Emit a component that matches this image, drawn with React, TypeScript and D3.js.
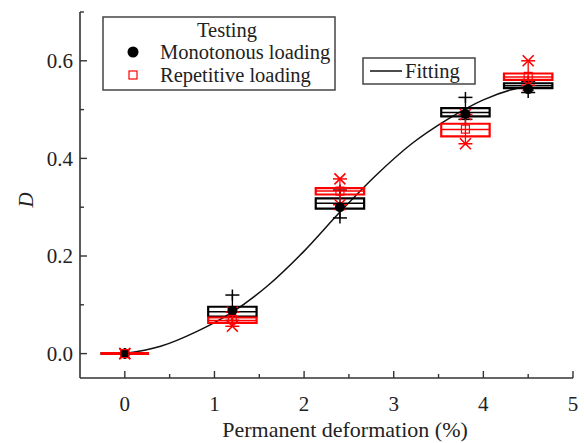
import React, { useEffect, useRef } from 'react';
import * as d3 from 'd3';

// permanent deformation (%) of each test group
const groups = [0, 1.2, 2.4, 3.8, 4.5];

// Monotonous loading (black)
const monoQ1 = [0, 0.076, 0.297, 0.486, 0.544];
const monoMedian = [0, 0.086, 0.308, 0.494, 0.549];
const monoQ3 = [0, 0.096, 0.318, 0.503, 0.554];
const monoMean = [0, 0.088, 0.3, 0.491, 0.542];
const monoMin = [0, 0.068, 0.278, 0.48, 0.535];
const monoMax = [0, 0.12, 0.335, 0.525, 0.558];

// Repetitive loading (red)
const repQ1 = [0, 0.063, 0.326, 0.445, 0.561];
const repMedian = [0, 0.068, 0.333, 0.459, 0.567];
const repQ3 = [0, 0.074, 0.339, 0.471, 0.574];
const repMean = [0, 0.07, 0.333, 0.46, 0.568];
const repMin = [0, 0.056, 0.305, 0.43, 0.55];
const repMax = [0, 0.085, 0.358, 0.49, 0.6];

// fitting curve
const fitX = [0, 0.4, 0.8, 1.2, 1.6, 2.0, 2.4, 2.8, 3.2, 3.6, 4.0, 4.3, 4.5];
const fitD = [0, 0.015, 0.045, 0.085, 0.14, 0.21, 0.29, 0.365, 0.43, 0.48, 0.52, 0.54, 0.548];

const xTicks = [0, 1, 2, 3, 4, 5];
const yTicks = [0, 0.2, 0.4, 0.6];

const FONT = '"Liberation Serif", "Times New Roman", serif';

interface BoxSeries {
  name: string;
  color: string;
  q1: number[];
  median: number[];
  q3: number[];
  mean: number[];
  min: number[];
  max: number[];
  mark: 'plus' | 'cross';
}

const series: BoxSeries[] = [
  { name: 'Monotonous loading', color: '#000', q1: monoQ1, median: monoMedian, q3: monoQ3,
    mean: monoMean, min: monoMin, max: monoMax, mark: 'plus' },
  { name: 'Repetitive loading', color: '#f00', q1: repQ1, median: repMedian, q3: repQ3,
    mean: repMean, min: repMin, max: repMax, mark: 'cross' },
];

const width = 584;
const height = 443;
const margin = { top: 12, right: 11, bottom: 65, left: 80 };

export default function App() {
  const ref = useRef<SVGSVGElement>(null);

  useEffect(() => {
    const svg = d3.select(ref.current);
    svg.selectAll('*').remove();

    const w = width - margin.left - margin.right;
    const h = height - margin.top - margin.bottom;

    const x = d3.scaleLinear().domain([-0.5, 5]).range([0, w]);
    const y = d3.scaleLinear().domain([-0.05, 0.7]).range([h, 0]);

    const main = svg.append('g')
      .attr('transform', `translate(${margin.left}, ${margin.top})`);

    // fitting curve
    const line = d3.line<number>()
      .x((d, i) => x(fitX[i]))
      .y(d => y(d))
      .curve(d3.curveMonotoneX);

    main.append('path')
      .datum(fitD)
      .attr('d', line)
      .attr('fill', 'none')
      .attr('stroke', '#111')
      .attr('stroke-width', 1.5);

    // box charts
    const half = 0.27;
    const cap = 7;
    const mk = 5.5;
    const meanLayer = main.append('g');

    series.forEach(s => {
      const g = main.append('g').attr('stroke', s.color).attr('fill', 'none');

      groups.forEach((gx, i) => {
        const cx = x(gx);
        const x0 = x(gx - half);
        const x1 = x(gx + half);

        // whisker
        g.append('line')
          .attr('x1', cx).attr('x2', cx)
          .attr('y1', y(s.min[i])).attr('y2', y(s.max[i]))
          .attr('stroke-width', 1.3);

        [s.min[i], s.max[i]].forEach(v => {
          g.append('line')
            .attr('x1', cx - cap).attr('x2', cx + cap)
            .attr('y1', y(v)).attr('y2', y(v))
            .attr('stroke-width', 1.5);
          if (s.mark === 'plus') {
            g.append('path')
              .attr('d', `M${cx},${y(v) - mk}V${y(v) + mk}`)
              .attr('stroke-width', 1.5);
          } else {
            g.append('path')
              .attr('d', `M${cx - mk},${y(v) - mk}L${cx + mk},${y(v) + mk}M${cx - mk},${y(v) + mk}L${cx + mk},${y(v) - mk}`)
              .attr('stroke-width', 1.6);
          }
        });

        // box (a path, so a flat box still shows as a line)
        const yt = y(s.q3[i]);
        const yb = y(s.q1[i]);
        g.append('path')
          .attr('d', `M${x0},${yt}H${x1}V${yb}H${x0}Z`)
          .attr('stroke-width', yb - yt < 1 ? 3 : 2.2);

        g.append('line')
          .attr('x1', x0).attr('x2', x1)
          .attr('y1', y(s.median[i])).attr('y2', y(s.median[i]))
          .attr('stroke-width', 1.5);

        // mean, drawn on top of every box
        if (s.mark === 'plus') {
          meanLayer.append('circle')
            .attr('cx', cx).attr('cy', y(s.mean[i]))
            .attr('r', 5)
            .attr('fill', s.color);
        } else {
          meanLayer.append('rect')
            .attr('x', cx - 4).attr('y', y(s.mean[i]) - 4)
            .attr('width', 8).attr('height', 8)
            .attr('fill', 'none')
            .attr('stroke', s.color)
            .attr('stroke-width', 1.2);
        }
      });
    });
    meanLayer.raise();

    // axes
    const axisColor = '#333';
    const xAxis = main.append('g').attr('transform', `translate(0, ${h})`);
    xAxis.append('line')
      .attr('x1', 0).attr('x2', w).attr('y1', 0).attr('y2', 0)
      .attr('stroke', axisColor).attr('stroke-width', 1.6);
    d3.range(0, 5.01, 0.5).forEach(v => {
      const major = Math.abs(v - Math.round(v)) < 1e-6;
      xAxis.append('line')
        .attr('x1', x(v)).attr('x2', x(v))
        .attr('y1', 0).attr('y2', major ? -7 : -4)
        .attr('stroke', axisColor).attr('stroke-width', 1.4);
    });
    xAxis.selectAll('text.tick')
      .data(xTicks)
      .enter().append('text')
      .attr('class', 'tick')
      .attr('x', d => x(d))
      .attr('y', 33)
      .attr('text-anchor', 'middle')
      .attr('font-family', FONT)
      .attr('font-size', 21)
      .attr('fill', '#222')
      .text(d => d3.format('d')(d));

    const yAxis = main.append('g');
    yAxis.append('line')
      .attr('x1', 0).attr('x2', 0).attr('y1', 0).attr('y2', h)
      .attr('stroke', axisColor).attr('stroke-width', 1.6);
    d3.range(0, 0.701, 0.1).forEach(v => {
      const major = Math.abs(v * 5 - Math.round(v * 5)) < 1e-6;
      yAxis.append('line')
        .attr('x1', 0).attr('x2', major ? 7 : 4)
        .attr('y1', y(v)).attr('y2', y(v))
        .attr('stroke', axisColor).attr('stroke-width', 1.4);
    });
    yAxis.selectAll('text.tick')
      .data(yTicks)
      .enter().append('text')
      .attr('class', 'tick')
      .attr('x', -7)
      .attr('y', d => y(d))
      .attr('dy', '0.35em')
      .attr('text-anchor', 'end')
      .attr('font-family', FONT)
      .attr('font-size', 21)
      .attr('fill', '#222')
      .text(d => d3.format('.1f')(d));

    // axis titles
    svg.append('text')
      .attr('x', 345)
      .attr('y', 437)
      .attr('text-anchor', 'middle')
      .attr('font-family', FONT)
      .attr('font-size', 22)
      .attr('fill', '#222')
      .text('Permanent deformation (%)');

    svg.append('text')
      .attr('transform', 'translate(33, 200) rotate(-90)')
      .attr('text-anchor', 'middle')
      .attr('font-family', FONT)
      .attr('font-style', 'italic')
      .attr('font-size', 21)
      .attr('fill', '#222')
      .text('D');

    // legend: testing
    const leg = svg.append('g').attr('font-family', FONT).attr('font-size', 20.5).attr('fill', '#222');
    leg.append('rect')
      .attr('x', 103).attr('y', 17).attr('width', 232).attr('height', 73)
      .attr('fill', '#fff').attr('stroke', '#444').attr('stroke-width', 1.5);
    leg.append('text').attr('x', 227).attr('y', 37).attr('text-anchor', 'middle').text('Testing');
    leg.append('circle').attr('cx', 133).attr('cy', 52).attr('r', 5.5).attr('fill', '#000');
    leg.append('text').attr('x', 160).attr('y', 59).text(series[0].name);
    leg.append('rect')
      .attr('x', 129).attr('y', 71).attr('width', 8).attr('height', 8)
      .attr('fill', 'none').attr('stroke', '#f00').attr('stroke-width', 1.2);
    leg.append('text').attr('x', 160).attr('y', 82).text(series[1].name);

    // legend: fitting
    const leg2 = svg.append('g').attr('font-family', FONT).attr('font-size', 20.5).attr('fill', '#222');
    leg2.append('rect')
      .attr('x', 363).attr('y', 58).attr('width', 112).attr('height', 26)
      .attr('fill', '#fff').attr('stroke', '#444').attr('stroke-width', 1.5);
    leg2.append('line')
      .attr('x1', 370).attr('x2', 402).attr('y1', 71).attr('y2', 71)
      .attr('stroke', '#111').attr('stroke-width', 1.5);
    leg2.append('text').attr('x', 405).attr('y', 78).text('Fitting');
  }, []);

  return (
    <svg
      ref={ref}
      width={width}
      height={height}
      style={{ position: 'absolute', left: 0, top: 0, background: '#fff' }}
    />
  );
}
